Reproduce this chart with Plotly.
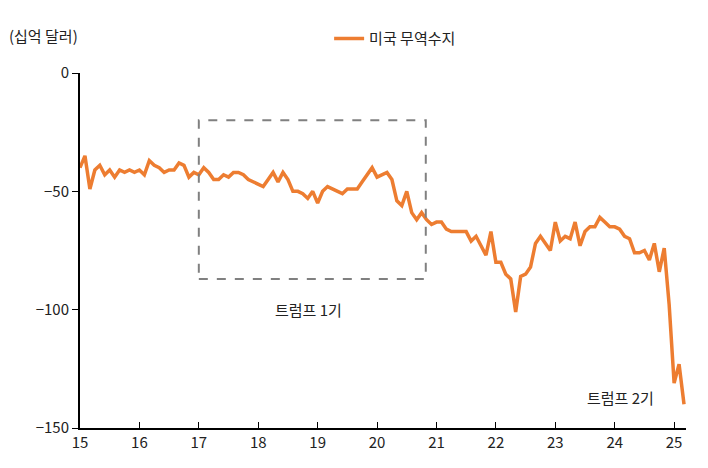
import plotly.graph_objects as go

ORANGE = '#ED7D31'

# monthly US trade balance (billion USD), Jan 2015 - Mar 2025
vals_2015 = [-40, -35, -49, -41, -39, -43, -41, -44, -41, -42, -41, -42]
vals_2016 = [-41, -43, -37, -39, -40, -42, -41, -41, -38, -39, -44, -42]
vals_2017 = [-43, -40, -42, -45, -45, -43, -44, -42, -42, -43, -45, -46]
vals_2018 = [-47, -48, -45, -42, -46, -42, -45, -50, -50, -51, -53, -50]
vals_2019 = [-55, -50, -48, -49, -50, -51, -49, -49, -49, -46, -43, -40]
vals_2020 = [-44, -43, -42, -45, -54, -56, -50, -59, -62, -59, -62, -64]
vals_2021 = [-63, -63, -66, -67, -67, -67, -67, -71, -69, -73, -77, -67]
vals_2022 = [-80, -80, -85, -87, -101, -86, -85, -82, -72, -69, -72, -75]
vals_2023 = [-63, -71, -69, -70, -63, -73, -67, -65, -65, -61, -63, -65]
vals_2024 = [-65, -66, -69, -70, -76, -76, -75, -79, -72, -84, -74, -98]
vals_2025 = [-131, -123, -140]

values = (vals_2015 + vals_2016 + vals_2017 + vals_2018 + vals_2019 + vals_2020
          + vals_2021 + vals_2022 + vals_2023 + vals_2024 + vals_2025)
x = [15 + i / 12 for i in range(len(values))]

FONT = 'Noto Sans CJK KR'

fig = go.Figure()
fig.add_trace(go.Scatter(x=x, y=values, mode='lines', name='미국 무역수지',
                         line=dict(color=ORANGE, width=3.5)))

# Trump 1st term box
fig.add_shape(type='rect', x0=17, x1=20.82, y0=-87, y1=-20,
              line=dict(color='#808080', width=2, dash='dash'))
fig.add_annotation(x=18.85, y=-100, text='트럼프 1기', showarrow=False,
                   font=dict(size=15, color='#222'))
fig.add_annotation(x=24.1, y=-137, text='트럼프 2기', showarrow=False,
                   font=dict(size=15, color='#222'))
fig.add_annotation(xref='paper', yref='paper', x=-0.12, y=1.07, xanchor='left',
                   yanchor='bottom', text='(십억 달러)', showarrow=False,
                   font=dict(size=15, color='#222'))

fig.update_layout(
    width=708, height=468,
    margin=dict(l=72, r=30, t=65, b=48, autoexpand=False),
    plot_bgcolor='white', paper_bgcolor='white',
    font=dict(family=FONT, size=15, color='#222'),
    showlegend=True,
    legend=dict(orientation='h', x=0.52, y=1.05, xanchor='center', yanchor='bottom',
                font=dict(size=15)),
    xaxis=dict(range=[15, 25.2], tickvals=list(range(15, 26)), showgrid=False,
               zeroline=False, showline=True, linecolor='black', linewidth=2,
               ticks='inside', ticklen=6, tickcolor='black'),
    yaxis=dict(range=[-150, 0], tickvals=[0, -50, -100, -150], showgrid=False,
               zeroline=False, showline=True, linecolor='black', linewidth=2,
               ticks='outside', ticklen=6, tickcolor='black'),
)
fig.write_html('out.html')
